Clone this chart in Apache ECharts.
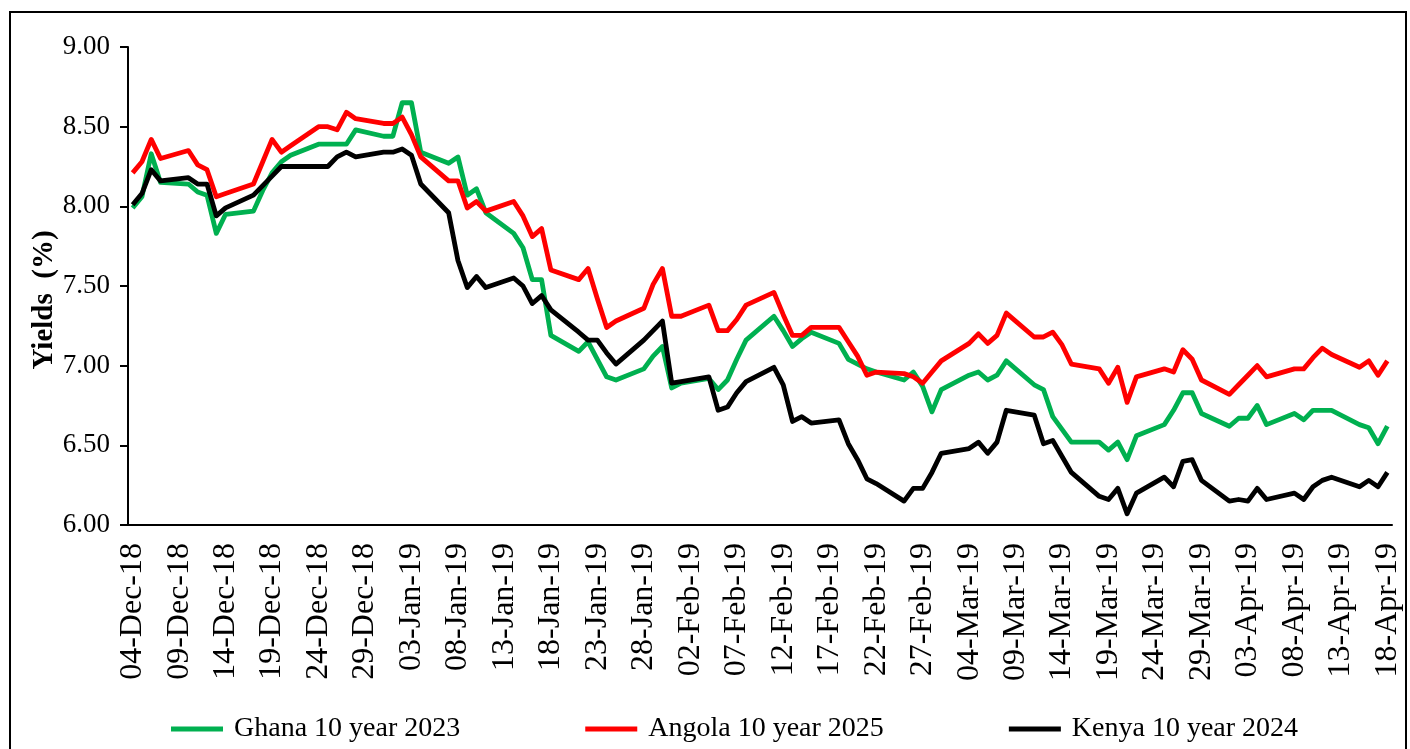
<!DOCTYPE html>
<html>
<head>
<meta charset="utf-8">
<script src="https://cdn.jsdelivr.net/npm/echarts@6/dist/echarts.min.js"></script>
<style>
html,body{margin:0;padding:0;background:#fff;}
#chart{width:1410px;height:749px;}
</style>
</head>
<body>
<div id="chart"></div>
<script>
// Business-day observation dates
const dates = [
 '2018-12-04','2018-12-05','2018-12-06','2018-12-07','2018-12-10','2018-12-11','2018-12-12','2018-12-13','2018-12-14',
 '2018-12-17','2018-12-18','2018-12-19','2018-12-20','2018-12-21','2018-12-24','2018-12-25','2018-12-26','2018-12-27','2018-12-28','2018-12-31',
 '2019-01-01','2019-01-02','2019-01-03','2019-01-04','2019-01-07','2019-01-08','2019-01-09','2019-01-10','2019-01-11',
 '2019-01-14','2019-01-15','2019-01-16','2019-01-17','2019-01-18','2019-01-21','2019-01-22','2019-01-23','2019-01-24','2019-01-25',
 '2019-01-28','2019-01-29','2019-01-30','2019-01-31',
 '2019-02-01','2019-02-04','2019-02-05','2019-02-06','2019-02-07','2019-02-08','2019-02-11','2019-02-12','2019-02-13','2019-02-14','2019-02-15',
 '2019-02-18','2019-02-19','2019-02-20','2019-02-21','2019-02-22','2019-02-25','2019-02-26','2019-02-27','2019-02-28',
 '2019-03-01','2019-03-04','2019-03-05','2019-03-06','2019-03-07','2019-03-08','2019-03-11','2019-03-12','2019-03-13','2019-03-14','2019-03-15',
 '2019-03-18','2019-03-19','2019-03-20','2019-03-21','2019-03-22','2019-03-25','2019-03-26','2019-03-27','2019-03-28','2019-03-29',
 '2019-04-01','2019-04-02','2019-04-03','2019-04-04','2019-04-05','2019-04-08','2019-04-09','2019-04-10','2019-04-11','2019-04-12',
 '2019-04-15','2019-04-16','2019-04-17','2019-04-18'
];

const ghana = [
 7.99,8.06,8.33,8.15, 8.14,8.09,8.07,7.83,7.95, 7.97,8.10,8.21,8.28,8.32, 8.39,8.39,8.39,8.39,8.48, 8.44,
 8.44,8.65,8.65,8.34, 8.27,8.31,8.07,8.11,7.96, 7.83,7.74,7.54,7.54,7.19, 7.09,7.15,7.04,6.93,6.91, 6.98,7.06,7.12,6.86,
 6.89, 6.92,6.85,6.91,7.04,7.16, 7.31,7.22,7.12,7.17,7.21, 7.14,7.04,7.01,6.98,6.96, 6.91,6.96,6.87,6.71,
 6.85, 6.94,6.96,6.91,6.94,7.03, 6.88,6.85,6.68,6.60,6.52, 6.52,6.47,6.52,6.41,6.56, 6.63,6.72,6.83,6.83,6.70,
 6.62,6.67,6.67,6.75,6.63, 6.70,6.66,6.72,6.72,6.72, 6.63,6.61,6.51,6.62
];

const angola = [
 8.21,8.28,8.42,8.30, 8.35,8.26,8.23,8.06,8.08, 8.14,8.28,8.42,8.34,8.38, 8.50,8.50,8.48,8.59,8.55, 8.52,
 8.52,8.56,8.45,8.31, 8.16,8.16,7.99,8.03,7.97, 8.03,7.94,7.81,7.86,7.60, 7.54,7.61,7.42,7.24,7.28, 7.36,7.51,7.61,7.31,
 7.31, 7.38,7.22,7.22,7.29,7.38, 7.46,7.32,7.19,7.19,7.24, 7.24,7.15,7.06,6.94,6.96, 6.95,6.93,6.89,6.96,
 7.03, 7.14,7.20,7.14,7.19,7.33, 7.18,7.18,7.21,7.13,7.01, 6.98,6.89,6.99,6.77,6.93, 6.98,6.96,7.10,7.04,6.91,
 6.82,6.88,6.94,7.00,6.93, 6.98,6.98,7.05,7.11,7.07, 6.99,7.03,6.94,7.03
];

const kenya = [
 8.01,8.08,8.23,8.16, 8.18,8.14,8.14,7.94,7.99, 8.07,8.13,8.19,8.25,8.25, 8.25,8.25,8.31,8.34,8.31, 8.34,
 8.34,8.36,8.32,8.14, 7.96,7.66,7.49,7.56,7.49, 7.55,7.50,7.39,7.44,7.35, 7.21,7.16,7.16,7.08,7.01, 7.16,7.22,7.28,6.89,
 6.90, 6.93,6.72,6.74,6.83,6.90, 6.99,6.88,6.65,6.68,6.64, 6.66,6.51,6.41,6.29,6.26, 6.15,6.23,6.23,6.33,
 6.45, 6.48,6.52,6.45,6.52,6.72, 6.69,6.51,6.53,6.43,6.33, 6.18,6.16,6.23,6.07,6.20, 6.30,6.24,6.40,6.41,6.28,
 6.15,6.16,6.15,6.23,6.16, 6.20,6.16,6.24,6.28,6.30, 6.24,6.28,6.24,6.33
];

const seriesNames = ['Ghana 10 year 2023', 'Angola 10 year 2025', 'Kenya 10 year 2024'];
const yTitle = 'Yields  (%)';
const yTicks = { min: 6, max: 9, step: 0.5 };

// Build a calendar-day category axis (Excel-style date axis)
const MONTHS = ['Jan','Feb','Mar','Apr','May','Jun','Jul','Aug','Sep','Oct','Nov','Dec'];
function parseD(s){ const p = s.split('-').map(Number); return Date.UTC(p[0], p[1]-1, p[2]); }
function fmt(t){
  const d = new Date(t);
  const dd = String(d.getUTCDate()).padStart(2,'0');
  const yy = String(d.getUTCFullYear()).slice(2);
  return dd + '-' + MONTHS[d.getUTCMonth()] + '-' + yy;
}
const DAY = 86400000;
const t0 = parseD(dates[0]);
const nDays = Math.round((parseD(dates[dates.length-1]) - t0) / DAY) + 1;
const categories = [];
for (let i = 0; i < nDays; i++) categories.push(fmt(t0 + i*DAY));
function toCal(values){
  const arr = new Array(nDays).fill(null);
  dates.forEach((d, k) => { arr[Math.round((parseD(d) - t0)/DAY)] = values[k]; });
  return arr;
}

const FONT = 'Liberation Serif';
const chart = echarts.init(document.getElementById('chart'), null, {renderer: 'canvas'});
const mk = (name, vals, color) => ({
  name: name, type: 'line', data: toCal(vals), connectNulls: true,
  showSymbol: false, symbol: 'none', animation: false,
  lineStyle: { color: color, width: 4.8, join: 'round' },
  itemStyle: { color: color },
  emphasis: { disabled: true }
});

chart.setOption({
  backgroundColor: '#fff',
  animation: false,
  textStyle: { fontFamily: FONT },
  graphic: [{
    type: 'rect', shape: { x: 10, y: 12, width: 1396, height: 760 },
    style: { fill: 'none', stroke: '#000', lineWidth: 2 }, silent: true, z: -1
  }, {
    type: 'text', x: 45, y: 300, rotation: Math.PI / 2, silent: true,
    style: { text: yTitle, fontFamily: FONT, fontSize: 29, fontWeight: 'bold', fill: '#000',
      align: 'center', verticalAlign: 'middle' }
  }],
  grid: { left: 128, right: 18, top: 47, bottom: 224, containLabel: false },
  legend: {
    left: 166, top: 710, itemWidth: 52, itemHeight: 5, itemGap: 125, icon: 'rect',
    textStyle: { fontFamily: FONT, fontSize: 28, color: '#000', padding: [0,0,0,6] },
    data: seriesNames
  },
  xAxis: {
    type: 'category', data: categories, boundaryGap: true,
    axisLine: { lineStyle: { color: '#000', width: 2 } },
    axisTick: { interval: 4, length: 8, lineStyle: { color: '#000', width: 2 } },
    axisLabel: { interval: 4, rotate: 90, fontFamily: FONT, fontSize: 32, color: '#000', margin: 18 },
    splitLine: { show: false }
  },
  yAxis: {
    type: 'value', min: yTicks.min, max: yTicks.max, interval: yTicks.step,
    axisLine: { show: true, lineStyle: { color: '#000', width: 2 } },
    axisTick: { show: true, length: 8, lineStyle: { color: '#000', width: 2 } },
    axisLabel: { fontFamily: FONT, fontSize: 27, color: '#000', margin: 18,
      formatter: v => v.toFixed(2) },
    splitLine: { show: false }
  },
  series: [
    mk(seriesNames[0], ghana, '#00B050'),
    mk(seriesNames[1], angola, '#FF0000'),
    mk(seriesNames[2], kenya, '#000000')
  ]
});
</script>
</body>
</html>
